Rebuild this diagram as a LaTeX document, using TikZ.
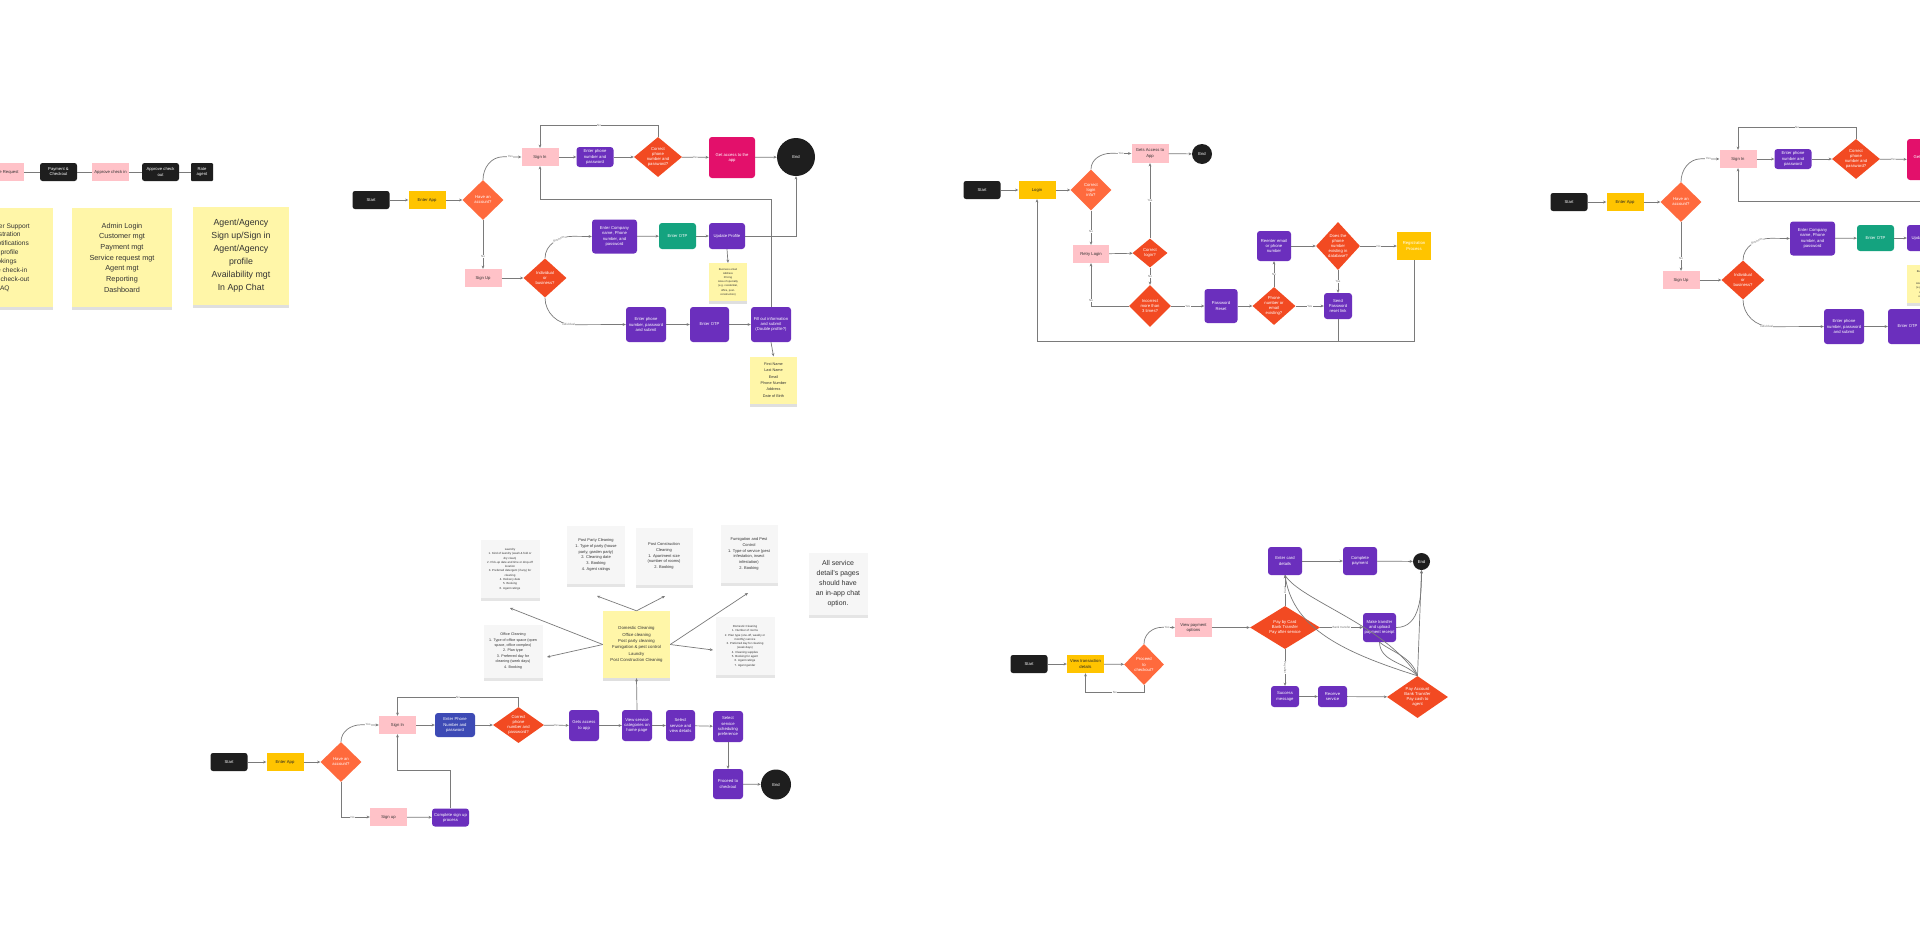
\documentclass[tikz,border=0pt]{standalone}
\usepackage{fontspec}
\setmainfont{Liberation Sans}
\usetikzlibrary{shapes.geometric,arrows.meta,shadows}
\definecolor{cblack}{HTML}{1E1E1E}
\definecolor{cyellow}{HTML}{FFC400}
\definecolor{cpink}{HTML}{FFC2C8}
\definecolor{corange}{HTML}{FF6A3D}
\definecolor{cred}{HTML}{F24A22}
\definecolor{cpurple}{HTML}{6B2FBD}
\definecolor{cteal}{HTML}{14A37F}
\definecolor{cmag}{HTML}{E3106B}
\definecolor{cblue}{HTML}{3D4AB5}
\definecolor{cnote}{HTML}{FFF6A8}
\definecolor{cgnote}{HTML}{F6F6F6}
\definecolor{cline}{HTML}{7A7A7A}
\newcommand\nodefnt{\fontsize{4.2}{5.1}\selectfont}
\newcommand\lblfnt{\fontsize{3}{3.5}\selectfont}
\tikzset{
 sz/.style 2 args={minimum width=#1, minimum height=#2},
 nbase/.style={inner sep=0.5pt, align=center, font=\nodefnt, sz={37}{18}},
 term/.style={nbase, rounded corners=2.5pt, fill=cblack, text=white},
 yel/.style={nbase, fill=cyellow, text=black!85},
 pinkb/.style={nbase, fill=cpink, text=black!80},
 purp/.style={nbase, rounded corners=3pt, fill=cpurple, text=white, sz={37}{26}},
 greenb/.style={purp, fill=cteal},
 magb/.style={purp, fill=cmag},
 blu/.style={purp, fill=cblue},
 endc/.style={circle, fill=cblack, text=white, inner sep=0pt, font=\nodefnt},
 dia/.style 2 args={diamond, fill=cred, inner sep=0pt, minimum width=#1, minimum height=#2},
 dlab/.style={align=center, text=white, font=\nodefnt, inner sep=0pt},
 arr/.style={draw=cline, line width=0.7pt, -{Stealth[length=3.2pt,width=2.8pt]}},
 pln/.style={draw=cline, line width=0.7pt},
 lbl/.style={font=\lblfnt, fill=white, inner sep=0.4pt, text=black!55},
 ynote/.style={fill=cnote, align=center, inner sep=1pt, text=black!80,
   drop shadow={shadow xshift=0pt, shadow yshift=-3pt, opacity=0.25}},
 gnote/.style={fill=cgnote, align=center, inner sep=1pt, text=black!80,
   drop shadow={shadow xshift=0pt, shadow yshift=-3pt, opacity=0.2}},
}
% sign-up / sign-in flow, reused twice
\newcommand\signflow[1]{%
 \node[term] (#1start) at (371,200) {Start};
 \node[yel] (#1app) at (427,200) {Enter App};
 \node[dia={41}{40}, fill=corange, label={[dlab]center:{Have an\\account?}}] (#1has) at (483,200) {};
 \node[pinkb] (#1signin) at (540,157) {Sign In};
 \node[purp, sz={37}{20}] (#1phone) at (595,157) {Enter phone\\number and\\password};
 \node[dia={48}{40}, label={[dlab]center:{Correct\\phone\\number and\\password?}}] (#1correct) at (658,157) {};
 \node[magb, sz={46}{41}] (#1access) at (732,157.5) {Get access to the\\app};
 \node[endc, minimum size=38] (#1end) at (796,157) {End};
 \node[pinkb] (#1signup) at (483,278) {Sign Up};
 \node[dia={43}{39}, label={[dlab]center:{Individual\\or\\business?}}] (#1indiv) at (545,278) {};
 \node[purp, sz={45}{34}] (#1company) at (614.5,236.5) {Enter Company\\name, Phone\\number, and\\password};
 \node[greenb, sz={37}{26}] (#1otpa) at (677.5,236) {Enter OTP};
 \node[purp, sz={36}{26}] (#1update) at (727,236) {Update Profile};
 \node[purp, sz={40}{35}] (#1phsub) at (646,324.5) {Enter phone\\number, password\\and submit};
 \node[purp, sz={39}{35}] (#1otpb) at (709.5,324.5) {Enter OTP};
 \node[purp, sz={40}{35}] (#1fill) at (771,324.5) {Fill out information\\and submit\\(Double profile?)};
 \node[ynote, sz={38}{38}, font=\fontsize{2.7}{4.2}\selectfont] (#1bizn) at (728,282) {Business email\\Address\\Pricing\\Area of specialty\\(e.g. residential,\\office, post-\\construction)};
 \node[ynote, sz={47}{47}, font=\fontsize{3.8}{6.4}\selectfont] (#1pers) at (773.5,380) {First Name\\Last Name\\Email\\Phone Number\\Address\\Date of Birth};
 \draw[arr] (#1start) -- (#1app);
 \draw[arr] (#1app) -- (#1has);
 \draw[arr] (#1has.north) to[out=90,in=180] ++(20,-23) -- node[lbl,pos=.4]{Yes} (#1signin.west);
 \draw[arr] (#1has.south) -- node[lbl,pos=.75]{No} (#1signup.north);
 \draw[arr] (#1signin) -- (#1phone);
 \draw[arr] (#1phone) -- (#1correct);
 \draw[arr] (#1correct) -- node[lbl]{Yes} (#1access);
 \draw[arr] (#1access) -- (#1end);
 \draw[arr] (#1correct.north) -- ++(0,-11) -| node[lbl,pos=.25]{No} (#1signin.north);
 \draw[arr] (#1fill.north) -- ++(0,-107) -| (#1signin.south);
 \draw[arr] (#1signup) -- (#1indiv);
 \draw[arr] (#1indiv.north) to[out=90,in=180] node[lbl,pos=.65,sloped]{Business} ++(28,-22) -- (#1company.west);
 \draw[arr] (#1indiv.south) to[out=-90,in=180] node[lbl,pos=.9]{Individual} ++(28,27) -- (#1phsub.west);
 \draw[arr] (#1company) -- (#1otpa);
 \draw[arr] (#1otpa) -- (#1update);
 \draw[arr] (#1update.east) -| (#1end.south);
 \draw[arr] (#1update.south) -- (#1bizn.north);
 \draw[arr] (#1phsub) -- (#1otpb);
 \draw[arr] (#1otpb) -- (#1fill);
 \draw[arr] (#1fill.south) -- (#1pers.north);
}
\begin{document}
\begin{tikzpicture}[x=1pt,y=-1pt]
\fill[white] (0,0) rectangle (1920,932);
\useasboundingbox (0,0) rectangle (1920,932);
\clip (0,0) rectangle (1920,932);

% ---------- top-left fragment ----------
\node[pinkb, sz={38}{18}] (req) at (5,172) {Make Request};
\node[term] (pay0) at (58.5,172) {Payment \&\\Checkout};
\node[pinkb] (ain) at (110.5,172) {Approve check in};
\node[term] (aout) at (160.5,172) {Approve check\\out};
\node[term, sz={22}{18}, rounded corners=1pt] (rate) at (202,172) {Rate\\agent};
\draw[pln] (req) -- (pay0);
\draw[pln] (pay0) -- (ain);
\draw[pln] (ain) -- (aout);
\draw[pln] (aout) -- (rate);
\node[ynote, sz={100}{99}, font=\fontsize{6.6}{8.9}\selectfont] (st1) at (3,257.5) {Customer Support\\Registration\\Push notifications\\Edit profile\\Bookings\\Service check-in\\Service check-out\\FAQ};
\node[ynote, sz={100}{99}, font=\fontsize{7.3}{10.7}\selectfont] (st2) at (122,257.5) {Admin Login\\Customer mgt\\Payment mgt\\Service request mgt\\Agent mgt\\Reporting\\Dashboard};
\node[ynote, sz={96}{98}, font=\fontsize{8.8}{13}\selectfont] (st3) at (241,256) {Agent/Agency\\Sign up/Sign in\\Agent/Agency\\profile\\Availability mgt\\In App Chat};

% ---------- flow 1 and its copy ----------
\signflow{a}
\begin{scope}[shift={(1198,2)}]
\signflow{r}
\end{scope}

% ---------- flow 2 (login) ----------
\node[term] (s2) at (982,190) {Start};
\node[yel] (login) at (1037,190) {Login};
\node[dia={41}{41}, fill=corange, label={[dlab]center:{Correct\\login\\info?}}] (cli) at (1091,190) {};
\node[pinkb, sz={37}{19}] (gets) at (1150,153.5) {Gets Access to\\App};
\node[endc, minimum size=20] (e2) at (1202,154) {End};
\node[pinkb, sz={36}{18}] (retry) at (1091,254) {Retry Login};
\node[dia={35}{29}, label={[dlab]center:{Correct\\login?}}] (cl) at (1150,253) {};
\node[dia={42}{42}, label={[dlab]center:{Incorrect\\more than\\3 times?}}] (inc) at (1150,306) {};
\node[purp, sz={33}{34}] (pwr) at (1221,306) {Password\\Reset};
\node[dia={43}{38}, label={[dlab]center:{Phone\\number or\\email\\existing?}}] (pne) at (1274,306) {};
\node[purp, sz={34}{30}] (reen) at (1274,246) {Reenter email\\or phone\\number};
\node[dia={44}{48}, label={[dlab]center:{Does the\\phone\\number\\existing in\\database?}}] (dpn) at (1338,246) {};
\node[purp, sz={28}{26}] (send) at (1338,306) {Send\\Password\\reset link};
\node[yel, sz={34}{28}, text=white] (reg) at (1414,246) {Registration\\Process};
\draw[arr] (s2) -- (login);
\draw[arr] (login) -- (cli);
\draw[arr] (cli.north) to[out=90,in=180] ++(20,-16) -- node[lbl,pos=.5]{Yes} (gets.west);
\draw[arr] (gets) -- (e2);
\draw[arr] (cli.south) -- node[lbl,pos=.6]{No} (retry.north);
\draw[arr] (retry) -- (cl);
\draw[arr] (cl.north) -- node[lbl]{Yes} (gets.south);
\draw[arr] (cl.south) -- node[lbl]{No} (inc.north);
\draw[arr] (inc.west) -| node[lbl,pos=.56]{No} (retry.south);
\draw[arr] (inc) -- node[lbl]{Yes} (pwr);
\draw[arr] (pwr) -- (pne);
\draw[arr] (pne.north) -- node[lbl]{No} (reen.south);
\draw[arr] (pne) -- node[lbl]{Yes} (send);
\draw[arr] (reen) -- (dpn);
\draw[arr] (dpn.south) -- node[lbl]{Yes} (send.north);
\draw[arr] (dpn) -- node[lbl]{No} (reg);
\draw[arr] (reg.south) -- ++(0,81) -| (login.south);
\draw[pln] (send.south) -- ++(0,22);

% ---------- flow 4 (bottom left) ----------
\node[term] (s4) at (229,762) {Start};
\node[yel] (app4) at (285,762) {Enter App};
\node[dia={41}{40}, fill=corange, label={[dlab]center:{Have an\\account?}}] (has4) at (341,762) {};
\node[pinkb] (si4) at (397.5,725) {Sign In};
\node[blu, sz={40}{24}] (ph4) at (455,725) {Enter Phone\\Number and\\password};
\node[dia={51}{36}, label={[dlab]center:{Correct\\phone\\number and\\password?}}] (cor4) at (518.5,725) {};
\node[purp, sz={30}{31}] (acc4) at (584,725.5) {Gets access\\to app};
\node[purp, sz={30}{31}] (view4) at (637,725.5) {View service\\categories on\\home page};
\node[purp, sz={29}{31}] (sel4) at (680.5,725.5) {Select\\service and\\view details};
\node[purp, sz={30}{31}] (sch4) at (728,726.5) {Select\\service\\scheduling\\preference};
\node[purp, sz={30}{30}] (chk4) at (728,784) {Proceed to\\checkout};
\node[endc, minimum size=30] (e4) at (776,784.5) {End};
\node[pinkb] (su4) at (388.5,817) {Sign up};
\node[purp, sz={37}{18}] (cs4) at (450.5,817.5) {Complete sign up\\process};
\draw[arr] (s4) -- (app4);
\draw[arr] (app4) -- (has4);
\draw[arr] (has4.north) to[out=90,in=180] ++(20,-17) -- node[lbl,pos=.4]{Yes} (si4.west);
\draw[arr] (has4.south) |- node[lbl,pos=.7]{No} (su4.west);
\draw[arr] (si4) -- (ph4);
\draw[arr] (ph4) -- (cor4);
\draw[arr] (cor4.north) -- ++(0,-9) -| node[lbl,pos=.25]{No} (si4.north);
\draw[arr] (cor4) -- node[lbl]{Yes} (acc4);
\draw[arr] (acc4) -- (view4);
\draw[arr] (view4) -- (sel4);
\draw[arr] (sel4) -- (sch4);
\draw[arr] (sch4.south) -- (chk4.north);
\draw[arr] (chk4) -- (e4);
\draw[arr] (su4) -- (cs4);
\draw[arr] (cs4.north) -- ++(0,-38) -| (si4.south);

% ---------- service stickies ----------
\node[gnote, sz={59}{58}, font=\fontsize{2.9}{4.3}\selectfont] (stA) at (510,569) {Laundry\\1. Kind of laundry (wash \& fold or\\dry clean)\\2. Pick-up date and time or drop-off\\location\\3. Preferred detergent (if any) for\\cleaning\\4. Delivery date\\5. Booking\\6. Agent ratings};
\node[gnote, sz={58}{58}, font=\fontsize{4}{5.8}\selectfont] (stB) at (596,555) {Post Party Cleaning\\1. Type of party (house\\party, garden party)\\2. Cleaning date\\3. Booking\\4. Agent ratings};
\node[gnote, sz={57}{57}, font=\fontsize{4}{5.8}\selectfont] (stC) at (664,556) {Post Construction\\Cleaning\\1. Apartment size\\(number of rooms)\\2. Booking};
\node[gnote, sz={57}{58}, font=\fontsize{4}{5.8}\selectfont] (stD) at (749,554) {Fumigation and Pest\\Control\\1. Type of service (pest\\infestation, insect\\infestation)\\2. Booking};
\node[gnote, sz={59}{62}, font=\fontsize{7}{10}\selectfont] (stE) at (838,584) {All service\\detail's pages\\should have\\an in-app chat\\option.};
\node[gnote, sz={59}{53}, font=\fontsize{3.7}{5.4}\selectfont] (stF) at (513,651) {Office Cleaning\\1. Type of office space (open\\space, office complex)\\2. Plan type\\3. Preferred day for\\cleaning (week days)\\4. Booking};
\node[ynote, sz={67}{67}, font=\fontsize{4.3}{6.3}\selectfont] (cat) at (636.5,644.5) {Domestic Cleaning\\Office cleaning\\Post party cleaning\\Fumigation \& pest control\\Laundry\\Post Construction Cleaning};
\node[gnote, sz={59}{58}, font=\fontsize{2.9}{4.3}\selectfont] (stG) at (745,646) {Domestic Cleaning\\1. Number of rooms\\2. Plan type (one-off, weekly or\\monthly) service\\3. Preferred day for cleaning\\(week days)\\4. Cleaning supplies\\5. Booking for agent\\6. Agent ratings\\7. Agent gender};
\coordinate (cA) at (510,608);
\coordinate (cF) at (547,657);
\coordinate (cB) at (597,596);
\coordinate (cC) at (665,596);
\coordinate (cD) at (748,593);
\coordinate (cG) at (713,650);
\draw[arr] (cat.west) -- (cA);
\draw[arr] (cat.west) -- (cF);
\draw[arr] (cat.north) -- (cB);
\draw[arr] (cat.north) -- (cC);
\draw[arr] (cat.east) -- (cD);
\draw[arr] (cat.east) -- (cG);
\draw[arr] (view4.north) -- (cat.south);

% ---------- flow 5 (payment) ----------
\node[term] (s5) at (1029,664) {Start};
\node[yel] (vt5) at (1085.5,664) {View transaction\\details};
\node[dia={40}{41}, fill=corange, label={[dlab]center:{Proceed\\to\\checkout?}}] (ptc) at (1144,664.5) {};
\node[pinkb, sz={37}{19}] (vpo) at (1193.5,627.5) {View payment\\options};
\node[dia={70}{43}, label={[dlab]center:{Pay by Card\\Bank Transfer\\Pay after service}}] (pay) at (1285,627.5) {};
\node[purp, sz={34}{28}] (card) at (1285,561) {Enter card\\details};
\node[purp, sz={34}{28}] (cpay) at (1360,561) {Complete\\payment};
\node[endc, minimum size=17] (e5) at (1421.5,561.5) {End};
\node[purp, sz={33}{29}] (mt) at (1379.5,627.5) {Make transfer\\and upload\\payment receipt};
\node[purp, sz={28}{21}] (succ) at (1285,696.5) {Success\\message};
\node[purp, sz={29}{21}] (recv) at (1332.5,696.5) {Receive\\service};
\node[dia={61}{42}, label={[dlab]center:{Pay Account\\Bank Transfer\\Pay cash to\\agent}}] (pac) at (1417.5,697) {};
\draw[arr] (s5) -- (vt5);
\draw[arr] (vt5) -- (ptc);
\draw[arr] (ptc.north) to[out=90,in=180] ++(18,-16.5) -- node[lbl,pos=.4]{Yes} (vpo.west);
\draw[arr] (ptc.south) -- ++(0,7) -| node[lbl,pos=.25]{No} (vt5.south);
\draw[arr] (vpo) -- (pay);
\draw[arr] (pay.north) -- node[lbl,sloped]{Card} (card.south);
\draw[arr] (pay) -- node[lbl]{Bank transfer} (mt);
\draw[arr] (pay.south) -- node[lbl,sloped]{Pay after} (succ.north);
\draw[arr] (card) -- (cpay);
\draw[arr] (cpay) -- (e5);
\draw[arr] (mt.east) to[out=0,in=-90] (e5.south);
\draw[arr] (pac.north) -- (e5.south);
\draw[pln] (card.south) .. controls (1292,625) and (1335,650) .. (pac.north);
\draw[pln] (card.south) .. controls (1300,600) and (1385,625) .. (pac.north);
\draw[pln] (mt.south) .. controls (1380,662) and (1405,662) .. (pac.north);
\draw[pln] (mt.south) .. controls (1392,652) and (1412,657) .. (pac.north);
\draw[arr] (succ) -- (recv);
\draw[arr] (recv) -- (pac);
\end{tikzpicture}
\end{document}
